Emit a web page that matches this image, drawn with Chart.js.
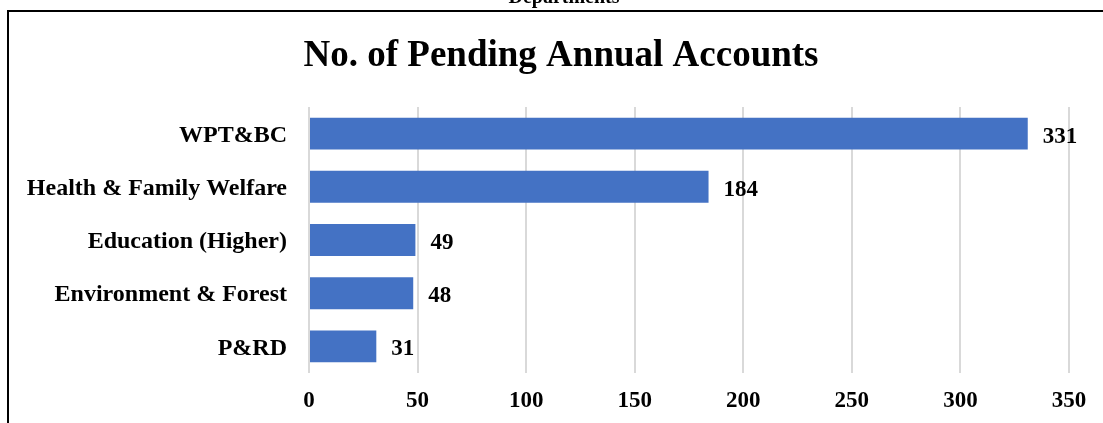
<!DOCTYPE html>
<html>
<head>
<meta charset="utf-8">
<script src="https://cdn.jsdelivr.net/npm/chart.js@4/dist/chart.umd.min.js"></script>
<style>
  html, body { margin: 0; padding: 0; background: #fff; }
  #wrap { width: 1103px; height: 423px; position: relative; }
</style>
</head>
<body>
<div id="wrap"><canvas id="pendingChart"></canvas></div>
<script>
// data
const departments = ['WPT&BC', 'Health & Family Welfare', 'Education (Higher)', 'Environment & Forest', 'P&RD'];
const pendingAccounts = [331, 184, 49, 48, 31];
const xTicks = [0, 50, 100, 150, 200, 250, 300, 350];

const chartTitle = 'No. of Pending Annual Accounts';
const topCaption = 'Departments';

const serif = '"Liberation Serif", "Times New Roman", serif';

// frame, caption, title and value labels
const decorations = {
    id: 'decorations',
    beforeDraw(chart) {
        const ctx = chart.ctx;
        ctx.save();
        ctx.strokeStyle = '#000';
        ctx.lineWidth = 2;
        ctx.beginPath();
        ctx.moveTo(8, 423);
        ctx.lineTo(8, 11);
        ctx.lineTo(1103, 11);
        ctx.stroke();

        ctx.fillStyle = '#000';
        ctx.textAlign = 'center';
        ctx.textBaseline = 'alphabetic';
        ctx.font = 'bold 20px ' + serif;
        ctx.fillText(topCaption, 564, 3);

        ctx.font = 'bold 37px ' + serif;
        ctx.fillText(chartTitle, 561, 66);
        ctx.restore();
    },
    afterDatasetsDraw(chart) {
        const ctx = chart.ctx;
        const meta = chart.getDatasetMeta(0);
        ctx.save();
        ctx.fillStyle = '#000';
        ctx.font = 'bold 23px ' + serif;
        ctx.textAlign = 'left';
        ctx.textBaseline = 'middle';
        meta.data.forEach((bar, i) => {
            ctx.fillText(String(pendingAccounts[i]), bar.x + 15, bar.y + 3);
        });
        ctx.restore();
    }
};

const ctx = document.getElementById('pendingChart').getContext('2d');

new Chart(ctx, {
    type: 'bar',
    data: {
        labels: departments,
        datasets: [{
            data: pendingAccounts,
            backgroundColor: '#4472C4',
            categoryPercentage: 1,
            barPercentage: 0.6
        }]
    },
    options: {
        indexAxis: 'y',
        responsive: true,
        maintainAspectRatio: false,
        animation: false,
        layout: { padding: { top: 107, right: 34, left: 0, bottom: 0 } },
        plugins: {
            legend: { display: false },
            tooltip: { enabled: false }
        },
        scales: {
            x: {
                min: 0,
                max: 350,
                afterBuildTicks(scale) {
                    scale.ticks = xTicks.map(v => ({ value: v }));
                },
                afterFit(scale) { scale.height = 50; },
                grid: { color: '#d9d9d9', lineWidth: 2, drawTicks: false },
                border: { display: false },
                ticks: {
                    color: '#000',
                    padding: 14,
                    font: { family: serif, size: 23, weight: 'bold' }
                }
            },
            y: {
                afterFit(scale) { scale.width = 309; },
                grid: { display: false, drawTicks: false },
                border: { display: false },
                ticks: {
                    color: '#000',
                    padding: 22,
                    labelOffset: 2,
                    font: { family: serif, size: 24, weight: 'bold' }
                }
            }
        }
    },
    plugins: [decorations]
});
</script>
</body>
</html>
